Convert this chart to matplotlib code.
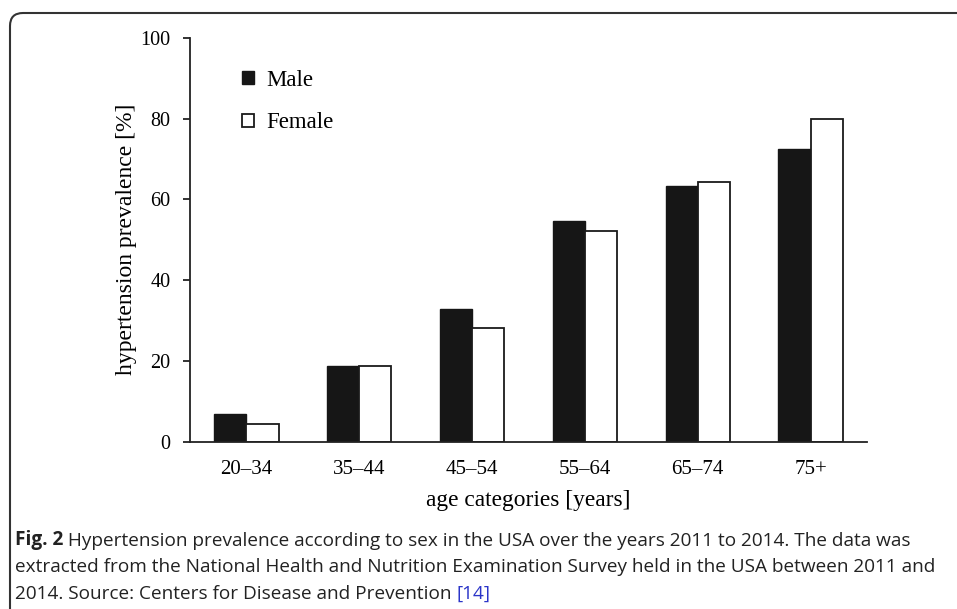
"""
Hypertension prevalence by sex and age group (NHANES 2011-2014)
"""
import matplotlib
matplotlib.use('Agg')
import numpy as np
import matplotlib.pyplot as plt
import matplotlib.patches as mpatches
import matplotlib.transforms as mtransforms

AGE_GROUPS = ['20–34', '35–44', '45–54', '55–64', '65–74', '75+']
MALE = [6.8, 18.7, 32.8, 54.7, 63.4, 72.4]
FEMALE = [4.4, 18.7, 28.1, 52.1, 64.4, 80.0]
Y_TICKS = [0, 20, 40, 60, 80, 100]

CAPTION_BOLD = 'Fig. 2'
CAPTION_LINES = [
    ' Hypertension prevalence according to sex in the USA over the years 2011 to 2014. The data was',
    'extracted from the National Health and Nutrition Examination Survey held in the USA between 2011 and',
    '2014. Source: Centers for Disease and Prevention ',
]
CAPTION_REF = '[14]'

SERIF = 'Liberation Serif'
CAP_FONT = 'Open Sans'
W, H, DPI = 957, 609, 100


def px_x(px):
    return px / W


def px_y(px):
    # pixel rows counted from the top of the picture
    return 1 - px / H


fig = plt.figure(figsize=(W / DPI, H / DPI), dpi=DPI)
ax = fig.add_axes([px_x(190), px_y(441.7), px_x(867 - 190), (441.7 - 37.7) / H])

x = np.arange(len(AGE_GROUPS))
width = 0.285
ax.bar(x - width / 2, MALE, width, color='#161616', edgecolor='#161616',
       linewidth=1.0, label='Male')
ax.bar(x + width / 2, FEMALE, width, color='white', edgecolor='#1a1a1a',
       linewidth=1.3, label='Female')

ax.set_xlim(-0.5, len(AGE_GROUPS) - 0.5)
ax.set_ylim(0, 100)
ax.set_yticks(Y_TICKS)
ax.set_xticks(x)
ax.set_xticklabels(AGE_GROUPS, fontfamily=SERIF, fontsize=15)
ax.set_yticklabels([str(v) for v in Y_TICKS], fontfamily=SERIF, fontsize=14.5)
ax.tick_params(axis='x', length=0, pad=13)
ax.tick_params(axis='y', direction='out', length=5, width=1.3, pad=9,
               color='#222222')
for side in ['top', 'right']:
    ax.spines[side].set_visible(False)
for side in ['left', 'bottom']:
    ax.spines[side].set_linewidth(1.3)
    ax.spines[side].set_color('#222222')

ax.set_xlabel('age categories [years]', fontfamily=SERIF, fontsize=16.8)
ax.xaxis.set_label_coords(0.5, -0.12)
ax.set_ylabel('hypertension prevalence [%]', fontfamily=SERIF, fontsize=17)
ax.yaxis.set_label_coords(-0.078, 0.5)

handles = [mpatches.Patch(facecolor='#161616', edgecolor='#161616', lw=1.0),
           mpatches.Patch(facecolor='white', edgecolor='#1a1a1a', lw=1.3)]
ax.legend(handles, ['Male', 'Female'], loc='upper left',
          bbox_to_anchor=(0.077, 0.92), frameon=False, borderpad=0,
          borderaxespad=0, handlelength=0.5, handleheight=0.5,
          handletextpad=0.55, labelspacing=0.93,
          prop={'family': SERIF, 'size': 16.5})

# rounded frame that runs off the right and bottom of the picture
frame = mpatches.FancyBboxPatch((10, -40), W + 40, H - 13 + 40,
                                boxstyle='round,pad=0,rounding_size=13',
                                transform=mtransforms.IdentityTransform(),
                                facecolor='none', edgecolor='#333333',
                                linewidth=1.5)
fig.add_artist(frame)

# caption
cap_size = 13.7
t_bold = fig.text(px_x(15), px_y(545), CAPTION_BOLD, fontfamily=CAP_FONT,
                  fontweight='bold', fontsize=cap_size, color='#222222',
                  va='baseline')
ax.annotate(CAPTION_LINES[0], xy=(1, 0), xycoords=t_bold, va='bottom',
            ha='left', fontfamily=CAP_FONT, fontsize=cap_size,
            color='#222222', annotation_clip=False)
fig.text(px_x(15), px_y(572), CAPTION_LINES[1], fontfamily=CAP_FONT,
         fontsize=cap_size, color='#222222', va='baseline')
t_last = fig.text(px_x(15), px_y(599), CAPTION_LINES[2], fontfamily=CAP_FONT,
                  fontsize=cap_size, color='#222222', va='baseline')
ax.annotate(CAPTION_REF, xy=(1, 0), xycoords=t_last, va='bottom', ha='left',
            fontfamily=CAP_FONT, fontsize=cap_size, color='#2b35c8',
            annotation_clip=False)

fig.savefig('out.png', dpi=DPI)
